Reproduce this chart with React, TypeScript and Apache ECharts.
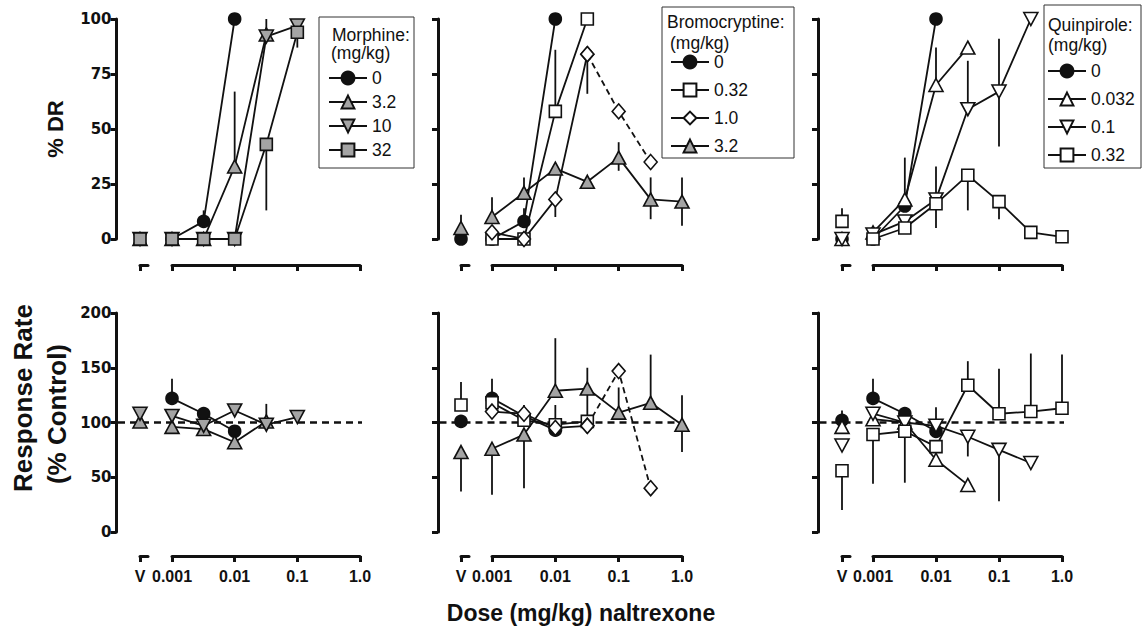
import React, { useEffect, useRef } from 'react';
import * as echarts from 'echarts';

// ---------- data ----------
const DOSES = [0.001, 0.0032, 0.01, 0.032, 0.1, 0.32, 1.0];
const X_TICK_LABELS = ['0.001', '0.01', '0.1', '1.0'];
const V_LABEL = 'V';

// Morphine
const MOR_NAMES = ['0', '3.2', '10', '32'];
const morDR_0 = [0, 8, 100];
const morDR_3_2 = [0, 0, 33, 93];
const morDR_10 = [0, 0, 0, 92, 97];
const morDR_32 = [0, 0, 0, 43, 94];
const morDR_V = [null, 0, 0, 0];
const morDR_err = [[0.0032, 8, 13], [0.01, 33, 67], [0.032, 93, 100], [0.032, 13, 43], [0.1, 87, 94]];
const morDR_Verr: number[][] = [];
const morRate_0 = [122, 108, 92];
const morRate_3_2 = [96, 94, 82, 101];
const morRate_10 = [106, 97, 111, 98, 105];
const morRate_32: (number | null)[] = [];
const morRate_V = [null, 101, 108, null];
const morRate_err = [[0.001, 122, 140], [0.032, 101, 117]];
const morRate_Verr: number[][] = [];

// Bromocryptine
const BRO_NAMES = ['0', '0.32', '1.0', '3.2'];
const broDR_0 = [0, 8, 100];
const broDR_0_32 = [0, 0, 58, 100];
const broDR_1_0 = [3, 0, 18, 84];
const broDR_1_0_dash = [null, null, null, 84, 58, 35];
const broDR_3_2 = [10, 21, 32, 26, 37, 18, 17];
const broDR_V = [0, null, null, 5];
const broDR_err = [[0.0032, 8, 14], [0.01, 58, 86], [0.01, 10, 18], [0.032, 66, 84], [0.001, 10, 19], [0.0032, 21, 28], [0.1, 31, 44], [0.32, 9, 28], [1.0, 6, 28]];
const broDR_Verr = [[5, 11]];
const broRate_0 = [122, 106, 93];
const broRate_0_32 = [118, 102, 98, 101];
const broRate_1_0 = [110, 108, 95, 97];
const broRate_1_0_dash = [null, null, null, 97, 147, 40];
const broRate_3_2 = [76, 89, 129, 131, 109, 118, 98];
const broRate_V = [101, 116, null, 73];
const broRate_err = [[0.001, 122, 140], [0.0032, 108, 116], [0.01, 95, 116], [0.001, 34, 76], [0.0032, 40, 89], [0.01, 129, 177], [0.032, 99, 150], [0.1, 109, 132], [0.32, 118, 162], [1.0, 73, 125]];
const broRate_Verr = [[116, 137], [37, 73]];

// Quinpirole
const QUI_NAMES = ['0', '0.032', '0.1', '0.32'];
const quiDR_0 = [0, 15, 100];
const quiDR_0_032 = [3, 18, 70, 87];
const quiDR_0_1 = [2, 8, 18, 59, 67, 100];
const quiDR_0_32 = [0, 5, 16, 29, 17, 3, 1];
const quiDR_V = [0, 0, 0, 8];
const quiDR_err = [[0.0032, 18, 37], [0.01, 70, 87], [0.01, 5, 33], [0.032, 59, 81], [0.1, 42, 91], [0.032, 13, 29], [0.1, 9, 17]];
const quiDR_Verr = [[8, 14]];
const quiRate_0 = [122, 108, 92];
const quiRate_0_032 = [103, 100, 66, 43];
const quiRate_0_1 = [108, 100, 97, 87, 75, 63];
const quiRate_0_32 = [89, 92, 78, 134, 108, 110, 113];
const quiRate_V = [102, 96, 79, 56];
const quiRate_err = [[0.001, 122, 140], [0.01, 97, 114], [0.032, 69, 87], [0.1, 28, 75], [0.001, 44, 89], [0.0032, 45, 92], [0.032, 134, 156], [0.1, 108, 149], [0.32, 110, 163], [1.0, 113, 162]];
const quiRate_Verr = [[102, 111], [20, 56]];

const REF_LINE = 100;

// ---------- styles / layout ----------
const INK = '#111111';
const GRAY = '#a4a4a4';
const WHITE = '#ffffff';
const SANS = '"Liberation Sans", Arial, sans-serif';

const CIRCLE = { symbol: 'circle', size: 12, fill: INK, rotate: 0 };
const TRI = (fill: string) => ({ symbol: 'triangle', size: [14, 13], fill, rotate: 0 });
const TRI_DOWN = (fill: string) => ({ symbol: 'triangle', size: [14, 13], fill, rotate: 180 });
const RECT = (fill: string) => ({ symbol: 'rect', size: 12, fill, rotate: 0 });
const DIAMOND = { symbol: 'diamond', size: [13, 15], fill: WHITE, rotate: 0 };

const PANELS = [
  {
    title: 'Morphine:', names: MOR_NAMES,
    styles: [CIRCLE, TRI(GRAY), TRI_DOWN(GRAY), RECT(GRAY)],
    rows: [
      { vals: [morDR_0, morDR_3_2, morDR_10, morDR_32], dash: [null, null, null, null], V: morDR_V, err: morDR_err, Verr: morDR_Verr },
      { vals: [morRate_0, morRate_3_2, morRate_10, morRate_32], dash: [null, null, null, null], V: morRate_V, err: morRate_err, Verr: morRate_Verr },
    ],
  },
  {
    title: 'Bromocryptine:', names: BRO_NAMES,
    styles: [CIRCLE, RECT(WHITE), DIAMOND, TRI(GRAY)],
    rows: [
      { vals: [broDR_0, broDR_0_32, broDR_1_0, broDR_3_2], dash: [null, null, broDR_1_0_dash, null], V: broDR_V, err: broDR_err, Verr: broDR_Verr },
      { vals: [broRate_0, broRate_0_32, broRate_1_0, broRate_3_2], dash: [null, null, broRate_1_0_dash, null], V: broRate_V, err: broRate_err, Verr: broRate_Verr },
    ],
  },
  {
    title: 'Quinpirole:', names: QUI_NAMES,
    styles: [CIRCLE, TRI(WHITE), TRI_DOWN(WHITE), RECT(WHITE)],
    rows: [
      { vals: [quiDR_0, quiDR_0_032, quiDR_0_1, quiDR_0_32], dash: [null, null, null, null], V: quiDR_V, err: quiDR_err, Verr: quiDR_Verr },
      { vals: [quiRate_0, quiRate_0_032, quiRate_0_1, quiRate_0_32], dash: [null, null, null, null], V: quiRate_V, err: quiRate_err, Verr: quiRate_Verr },
    ],
  },
];

const LAYOUT = [
  { yAxisX: 116.5, vLeft: 140, mainLeft: 172, mainWidth: 188,
    box: [319, 17, 95, 151], titleXY: [332, 35], subXY: [331, 53], legLeft: 328, legTop: 69, legGap: 6 },
  { yAxisX: 438, vLeft: 461, mainLeft: 492, mainWidth: 190,
    box: [662, 7, 132, 151], titleXY: [667, 22], subXY: [670, 43], legLeft: 670, legTop: 53, legGap: 10 },
  { yAxisX: 818, vLeft: 842, mainLeft: 873, mainWidth: 189,
    box: [1044, 5, 97, 163], titleXY: [1048, 25], subXY: [1048, 45], legLeft: 1047, legTop: 62, legGap: 10 },
];
const V_WIDTH = 8;
const ROWS = [
  { top: 19, height: 220, max: 100, interval: 25, axisOffset: 26, labels: false },
  { top: 313, height: 219, max: 200, interval: 50, axisOffset: 24, labels: true },
];

const axisLineStyle = { color: INK, width: 3 };
const tickLabelX = { fontFamily: SANS, fontWeight: 'bold' as const, fontSize: 16, color: INK, margin: 12 };
const tickLabelY = { fontFamily: '"DejaVu Sans", sans-serif', fontWeight: 'bold' as const, fontSize: 15, color: INK, margin: 5 };
const LEGEND_FONT = 17.5;

function lineSeries(name: string, idx: number, data: number[][], st: any, dashed = false) {
  return {
    type: 'line', name, xAxisIndex: idx, yAxisIndex: idx, data,
    symbol: st.symbol, symbolSize: st.size, symbolRotate: st.rotate,
    itemStyle: { color: st.fill, borderColor: INK, borderWidth: 1.6 },
    lineStyle: { color: INK, width: 1.8, type: dashed ? [6, 4] : 'solid' },
    clip: false, silent: true, z: 3, animation: false,
    emphasis: { disabled: true },
  };
}

function errSeries(idx: number, data: number[][]) {
  return {
    type: 'custom', xAxisIndex: idx, yAxisIndex: idx, data, clip: false, silent: true, z: 2,
    encode: { x: 0, y: [1, 2] },
    renderItem: (_params: any, api: any) => {
      const a = api.coord([api.value(0), api.value(1)]);
      const b = api.coord([api.value(0), api.value(2)]);
      return { type: 'line', shape: { x1: a[0], y1: a[1], x2: b[0], y2: b[1] }, style: { stroke: INK, lineWidth: 1.8 } };
    },
  };
}

function buildOption() {
  const grid: any[] = [];
  const xAxis: any[] = [];
  const yAxis: any[] = [];
  const series: any[] = [];
  const legend: any[] = [];
  const graphic: any[] = [];

  PANELS.forEach((P, p) => {
    const L = LAYOUT[p];
    ROWS.forEach((R, r) => {
      const gi = grid.length;
      const vi = gi + 1;
      grid.push({ left: L.mainLeft, top: R.top, width: L.mainWidth, height: R.height });
      grid.push({ left: L.vLeft, top: R.top, width: V_WIDTH, height: R.height });
      xAxis.push({
        type: 'log', logBase: 10, gridIndex: gi, min: 0.001, max: 1, position: 'bottom', offset: R.axisOffset,
        axisLine: { show: true, onZero: false, lineStyle: axisLineStyle },
        axisTick: { show: true, length: 6, lineStyle: axisLineStyle },
        axisLabel: {
          show: R.labels, ...tickLabelX,
          formatter: (v: number) => X_TICK_LABELS[Math.round(Math.log10(v)) + 3] ?? '',
        },
        splitLine: { show: false }, minorTick: { show: false },
      });
      xAxis.push({
        type: 'value', gridIndex: vi, min: 0, max: 1, position: 'bottom', offset: R.axisOffset,
        axisLine: { show: true, onZero: false, lineStyle: axisLineStyle },
        axisTick: { show: true, length: 6, lineStyle: axisLineStyle, customValues: [0] },
        axisLabel: { show: R.labels, ...tickLabelX, customValues: [0], formatter: () => V_LABEL },
        splitLine: { show: false },
      });
      yAxis.push({
        type: 'value', gridIndex: gi, min: 0, max: R.max, interval: R.interval, position: 'left',
        offset: L.mainLeft - L.yAxisX,
        axisLine: { show: true, onZero: false, lineStyle: axisLineStyle },
        axisTick: { show: true, length: 6, lineStyle: axisLineStyle },
        axisLabel: { show: p === 0, ...tickLabelY },
        splitLine: { show: false },
      });
      yAxis.push({ type: 'value', gridIndex: vi, min: 0, max: R.max, show: false });

      const row = P.rows[r];
      series.push(errSeries(gi, row.err));
      series.push(errSeries(vi, row.Verr.map((e) => [0, e[0], e[1]])));
      P.names.forEach((nm, i) => {
        const st = P.styles[i];
        const name = r === 0 ? `${p}|${nm}` : `${p}|${nm}|rate`;
        const data = DOSES.map((d, k) => [d, row.vals[i][k]]).filter((d) => d[1] != null) as number[][];
        const dash = row.dash[i];
        if (dash) {
          const dd = DOSES.map((d, k) => [d, dash[k]]).filter((d) => d[1] != null) as number[][];
          series.push(lineSeries(name + '|dash', gi, dd, st, true));
        }
        if (data.length) series.push(lineSeries(name, gi, data, st));
        const vv = row.V[i];
        if (vv != null) series.push(lineSeries(name + '|V', vi, [[0, vv]], st));
      });
    });

    legend.push({
      data: P.names.map((n) => `${p}|${n}`), orient: 'vertical', left: L.legLeft, top: L.legTop,
      itemWidth: 38, itemHeight: 16, itemGap: L.legGap, padding: 0, selectedMode: false,
      formatter: (n: string) => n.split('|')[1],
      textStyle: { fontFamily: SANS, fontSize: LEGEND_FONT, color: INK },
    });
    const [bx, by, bw, bh] = L.box;
    graphic.push({ type: 'rect', shape: { x: bx, y: by, width: bw, height: bh }, style: { fill: 'none', stroke: '#333', lineWidth: 1 }, silent: true });
    graphic.push({ type: 'text', x: L.titleXY[0], y: L.titleXY[1], style: { text: P.title, fontFamily: SANS, fontSize: LEGEND_FONT, fill: INK, align: 'left', verticalAlign: 'middle' } });
    graphic.push({ type: 'text', x: L.subXY[0], y: L.subXY[1], style: { text: '(mg/kg)', fontFamily: SANS, fontSize: LEGEND_FONT, fill: INK, align: 'left', verticalAlign: 'middle' } });

    // dashed reference line for response rate
    const ri = grid.length;
    const R2 = ROWS[1];
    grid.push({ left: L.yAxisX + 1.5, top: R2.top, width: L.mainLeft + L.mainWidth + 2 - (L.yAxisX + 1.5), height: R2.height });
    xAxis.push({ type: 'value', gridIndex: ri, min: 0, max: 1, show: false });
    yAxis.push({ type: 'value', gridIndex: ri, min: 0, max: R2.max, show: false });
    series.push({
      type: 'line', xAxisIndex: ri, yAxisIndex: ri, data: [[0, REF_LINE], [1, REF_LINE]], symbol: 'none',
      lineStyle: { color: INK, width: 2.5, type: [7, 5] }, silent: true, z: 1, clip: false,
    });
  });

  graphic.push({ type: 'text', x: 55, y: 129, rotation: Math.PI / 2, style: { text: '% DR', fontFamily: SANS, fontWeight: 'bold', fontSize: 22, fill: INK, align: 'center', verticalAlign: 'middle' } });
  graphic.push({ type: 'text', x: 23, y: 398, rotation: Math.PI / 2, style: { text: 'Response Rate', fontFamily: SANS, fontWeight: 'bold', fontSize: 26, fill: INK, align: 'center', verticalAlign: 'middle' } });
  graphic.push({ type: 'text', x: 57, y: 414, rotation: Math.PI / 2, style: { text: '(% Control)', fontFamily: SANS, fontWeight: 'bold', fontSize: 26, fill: INK, align: 'center', verticalAlign: 'middle' } });
  graphic.push({ type: 'text', x: 581, y: 613, style: { text: 'Dose (mg/kg) naltrexone', fontFamily: SANS, fontWeight: 'bold', fontSize: 23, fill: INK, align: 'center', verticalAlign: 'middle' } });

  return { animation: false, backgroundColor: '#ffffff', grid, xAxis, yAxis, series, legend, graphic };
}

export default function App() {
  const ref = useRef<HTMLDivElement>(null);
  useEffect(() => {
    const chart = echarts.init(ref.current!, null, { renderer: 'svg' });
    chart.setOption(buildOption() as any);
    return () => chart.dispose();
  }, []);
  return <div ref={ref} style={{ position: 'fixed', left: 0, top: 0, width: 1143, height: 630, background: '#fff' }} />;
}
